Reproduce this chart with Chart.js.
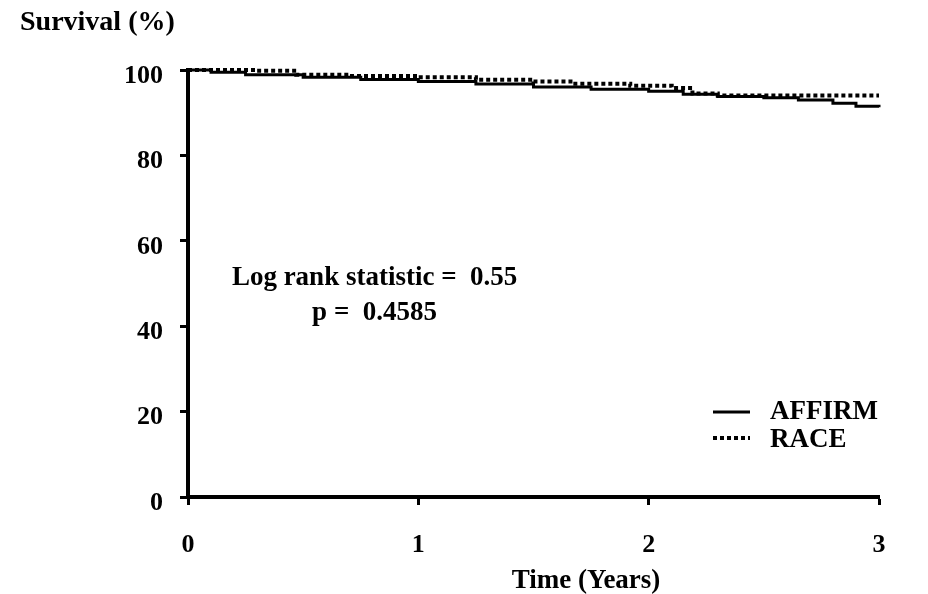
<!DOCTYPE html>
<html>
<head>
<meta charset="utf-8">
<script src="https://cdn.jsdelivr.net/npm/chart.js@4/dist/chart.umd.min.js"></script>
<style>
  html, body { margin: 0; padding: 0; background: #fff; }
  #wrap { width: 928px; height: 594px; }
</style>
</head>
<body>
<div id="wrap"><canvas id="chart" width="928" height="594"></canvas></div>
<script>
// Kaplan-Meier style survival estimates
const affirmTime = [0, 0.1, 0.25, 0.5, 0.75, 1.0, 1.25, 1.5, 1.75, 2.0, 2.15, 2.3, 2.5, 2.65, 2.8, 2.9, 3.0];
const affirmSurv = [100, 99.5, 98.9, 98.3, 97.8, 97.3, 96.7, 96.0, 95.5, 95.0, 94.3, 93.8, 93.5, 93.0, 92.2, 91.5, 91.3];
const raceTime = [0, 0.1, 0.3, 0.47, 0.7, 1.0, 1.25, 1.5, 1.67, 1.92, 2.1, 2.19, 2.3, 3.0];
const raceSurv = [100, 100, 99.8, 98.9, 98.6, 98.3, 97.7, 97.3, 96.8, 96.3, 95.8, 94.5, 94.0, 94.0];
const xTicks = [0, 1, 2, 3];
const yTicks = [0, 20, 40, 60, 80, 100];
const statLines = ["Log rank statistic =  0.55", "p =  0.4585"];
const xTitle = "Time (Years)";

const serif = "'Liberation Serif', 'Times New Roman', serif";

function toPoints(ts, vs) {
  return ts.map((t, i) => ({ x: t, y: vs[i] }));
}

// stats text, x-axis title and legend drawn on top of the plot
const extras = {
  id: "extras",
  afterDatasetsDraw(chart) {
    const { ctx, chartArea, scales } = chart;
    ctx.save();
    ctx.fillStyle = "#000";
    ctx.font = "bold 27px " + serif;
    ctx.textAlign = "center";
    ctx.textBaseline = "middle";
    const cx = scales.x.getPixelForValue(0.81);
    ctx.fillText(statLines[0], cx, scales.y.getPixelForValue(51.3));
    ctx.fillText(statLines[1], cx, scales.y.getPixelForValue(43.1));

    // axis title sits right of the axis centre in the original
    ctx.fillText(xTitle, chartArea.left + 398, chartArea.bottom + 84);

    // legend
    const lx = chartArea.right - 166;
    const rows = [chartArea.bottom - 85, chartArea.bottom - 59];
    chart.data.datasets.forEach((ds, i) => {
      const y = rows[i];
      ctx.strokeStyle = ds.borderColor;
      ctx.lineWidth = ds.borderWidth;
      ctx.setLineDash(ds.borderDash || []);
      ctx.beginPath();
      ctx.moveTo(lx, y);
      ctx.lineTo(lx + 37, y);
      ctx.stroke();
      ctx.setLineDash([]);
      ctx.textAlign = "left";
      ctx.fillText(ds.label, lx + 57, y + (i ? 2 : 0));
    });
    ctx.restore();
  }
};

const ctx = document.getElementById("chart").getContext("2d");
new Chart(ctx, {
  type: "line",
  data: {
    datasets: [
      {
        label: "AFFIRM",
        data: toPoints(affirmTime, affirmSurv),
        borderColor: "#000",
        borderWidth: 3,
        stepped: "before",
        pointRadius: 0,
        clip: 6,
      },
      {
        label: "RACE",
        data: toPoints(raceTime, raceSurv),
        borderColor: "#000",
        borderWidth: 4,
        borderDash: [4, 3],
        stepped: "before",
        pointRadius: 0,
        clip: 6,
      },
    ],
  },
  options: {
    responsive: false,
    animation: false,
    layout: { padding: { left: 20, right: 49, top: 0, bottom: 0 } },
    plugins: {
      legend: { display: false },
      tooltip: { enabled: false },
      title: {
        display: true,
        text: "Survival (%)",
        align: "start",
        color: "#000",
        font: { family: serif, size: 28, weight: "bold" },
        padding: { top: 6, bottom: 30.4 },
      },
    },
    scales: {
      x: {
        type: "linear",
        min: 0,
        max: 3,
        afterBuildTicks: (s) => { s.ticks = xTicks.map((v) => ({ value: v })); },
        afterFit: (s) => { s.height = 97; },
        border: { display: true, color: "#000", width: 4 },
        grid: { drawOnChartArea: false, color: "#000", tickLength: 8, tickWidth: 3 },
        ticks: { color: "#000", padding: 25, font: { family: serif, size: 26, weight: "bold" } },
      },
      y: {
        min: 0,
        max: 100,
        afterBuildTicks: (s) => { s.ticks = yTicks.map((v) => ({ value: v })); },
        afterFit: (s) => { s.width = 168; },
        border: { display: true, color: "#000", width: 4 },
        grid: { drawOnChartArea: false, color: "#000", tickLength: 8, tickWidth: 3 },
        ticks: { color: "#000", padding: 17, labelOffset: 6, font: { family: serif, size: 26, weight: "bold" } },
      },
    },
  },
  plugins: [extras],
});
</script>
</body>
</html>
